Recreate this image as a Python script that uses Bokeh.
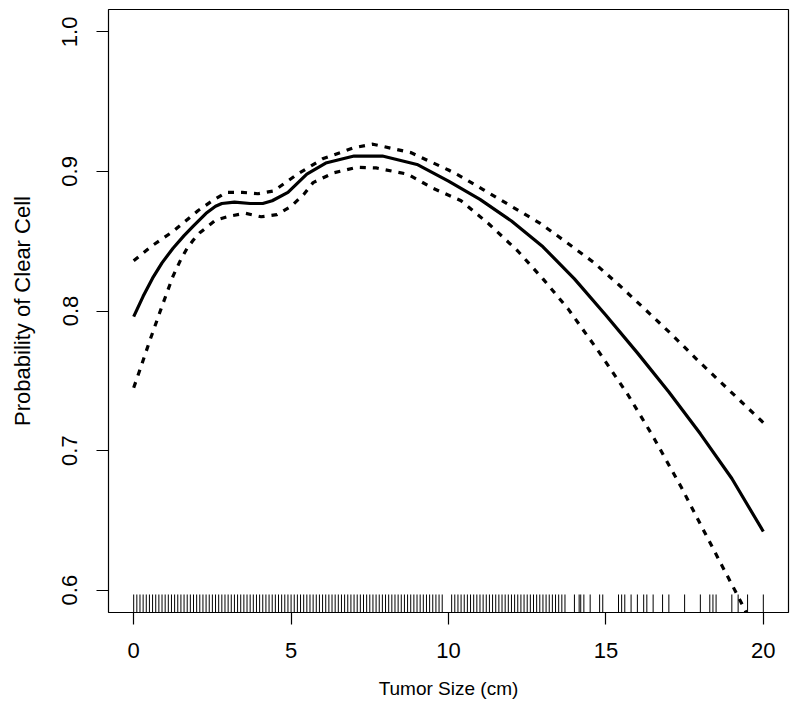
from bokeh.plotting import figure
from bokeh.models import Range1d, FixedTicker
from bokeh.embed import file_html
from bokeh.resources import INLINE

# ---- data ----
fit_x = [0, 0.3, 0.6, 0.9, 1.25, 1.6, 1.9, 2.3, 2.6, 2.8, 3.2, 3.7, 4.1, 4.4, 4.9,
         5.5, 6.1, 7.0, 7.5, 7.9, 9.0, 10.0, 11.0, 12.0, 13.0, 14.0, 15.0, 16.0,
         17.0, 18.0, 19.0, 20.0]
fit_y = [0.796, 0.8105, 0.8235, 0.8345, 0.845, 0.854, 0.861, 0.870, 0.875, 0.877,
         0.878, 0.877, 0.877, 0.879, 0.885, 0.898, 0.906, 0.911, 0.911, 0.911, 0.905,
         0.893, 0.880, 0.8645, 0.846, 0.823, 0.797, 0.770, 0.742, 0.712, 0.680, 0.642]

upper_x = [0, 0.6, 1.25, 2.05, 2.5, 2.95, 3.45, 3.95, 4.45, 5.2, 6.0, 7.0, 7.6, 8.8,
           10.0, 10.3, 11.1, 12.0, 12.9, 13.7, 14.6, 15.4, 16.3, 17.1, 17.9, 18.6,
           19.3, 20.0]
upper_y = [0.836, 0.847, 0.857, 0.872, 0.879, 0.885, 0.885, 0.884, 0.886, 0.898, 0.909,
           0.917, 0.9195, 0.9135, 0.901, 0.8975, 0.887, 0.875, 0.863, 0.850, 0.835,
           0.819, 0.800, 0.783, 0.765, 0.750, 0.735, 0.720]

lower_x = [0, 0.2, 0.5, 0.9, 1.25, 1.5, 1.7, 1.9, 2.1, 2.6, 3.05, 3.55, 4.05, 4.55,
           5.0, 5.4, 5.7, 6.35, 7.1, 7.7, 8.7, 9.5, 10.4, 11.3, 12.2, 13.0, 13.8, 14.8,
           15.7, 16.5, 17.4, 18.1, 18.7, 19.2, 19.6]
lower_y = [0.745, 0.758, 0.778, 0.8035, 0.825, 0.837, 0.845, 0.851, 0.856, 0.865,
           0.868, 0.870, 0.8675, 0.869, 0.875, 0.8835, 0.892, 0.899, 0.903, 0.9025,
           0.898, 0.888, 0.879, 0.862, 0.843, 0.823, 0.8015, 0.770, 0.740, 0.710,
           0.6735, 0.643, 0.617, 0.5955, 0.5775]

rug_x = [
    0.0, 0.1, 0.2, 0.3, 0.4, 0.5, 0.6, 0.7, 0.8, 0.9,
    1.0, 1.1, 1.2, 1.3, 1.4, 1.5, 1.6, 1.7, 1.8, 1.9,
    2.0, 2.1, 2.2, 2.3, 2.4, 2.5, 2.6, 2.7, 2.8, 2.9,
    3.0, 3.1, 3.2, 3.3, 3.4, 3.5, 3.6, 3.7, 3.8, 3.9,
    4.0, 4.1, 4.2, 4.3, 4.4, 4.5, 4.6, 4.7, 4.8, 4.9,
    5.0, 5.1, 5.2, 5.3, 5.4, 5.5, 5.6, 5.7, 5.8, 5.9,
    6.0, 6.1, 6.2, 6.3, 6.4, 6.5, 6.6, 6.7, 6.8, 6.9,
    7.0, 7.1, 7.2, 7.3, 7.4, 7.5, 7.6, 7.7, 7.8, 7.9,
    8.0, 8.1, 8.2, 8.3, 8.4, 8.5, 8.6, 8.7, 8.8, 8.9,
    9.0, 9.1, 9.2, 9.3, 9.4, 9.5, 9.6, 9.7, 9.8,
    10.1, 10.2, 10.3, 10.4, 10.5, 10.6, 10.7, 10.8, 10.9,
    11.0, 11.1, 11.2, 11.3, 11.4, 11.5, 11.6, 11.7, 11.8, 11.9,
    12.0, 12.1, 12.2, 12.3, 12.4, 12.5, 12.6, 12.7, 12.8, 12.9,
    13.0, 13.1, 13.2, 13.3, 13.4, 13.5, 13.6, 13.7,
    14.0, 14.15, 14.2, 14.3, 14.5, 14.8, 14.9,
    15.4, 15.5, 15.6, 15.8, 16.0, 16.2, 16.3, 16.5, 16.8, 17.0,
    17.5, 18.0, 18.3, 18.4, 18.5, 19.0, 19.2, 19.5, 20.0,
]

x_ticks = [0, 5, 10, 15, 20]
y_ticks = [0.6, 0.7, 0.8, 0.9, 1.0]
y_tick_labels = {0.6: "0.6", 0.7: "0.7", 0.8: "0.8", 0.9: "0.9", 1.0: "1.0"}

X_LO, X_HI = -0.8, 20.8
Y_LO, Y_HI = 0.584, 1.016
RUG_LEN = 0.0129  # rug tick height in data units (~18 px)

FONT = "Liberation Sans"

p = figure(width=792, height=712, output_backend="svg", toolbar_location=None,
           x_range=Range1d(X_LO, X_HI), y_range=Range1d(Y_LO, Y_HI),
           min_border_left=108, min_border_right=4, min_border_top=9,
           min_border_bottom=100)

p.background_fill_color = "white"
p.border_fill_color = "white"
p.outline_line_color = "black"
p.outline_line_width = 1.2
p.xgrid.visible = False
p.ygrid.visible = False

# lines
p.line(fit_x, fit_y, line_color="black", line_width=3.2)
p.line(upper_x, upper_y, line_color="black", line_width=3.2, line_dash="6 7")
p.line(lower_x, lower_y, line_color="black", line_width=3.2, line_dash="6 7")

# rug
p.segment(x0=rug_x, y0=[Y_LO] * len(rug_x), x1=rug_x, y1=[Y_LO + RUG_LEN] * len(rug_x),
          line_color="black", line_width=1)

# axes
for ax in (p.xaxis[0], p.yaxis[0]):
    ax.axis_line_color = None
    ax.major_tick_line_color = "black"
    ax.major_tick_line_width = 1.2
    ax.major_tick_in = 0
    ax.major_tick_out = 12
    ax.minor_tick_line_color = None
    ax.major_label_text_font = FONT
    ax.major_label_text_font_size = "22px"
    ax.major_label_text_color = "black"
    ax.axis_label_text_font = FONT
    ax.axis_label_text_font_style = "normal"
    ax.axis_label_text_color = "black"

p.xaxis.axis_label_text_font_size = "19px"
p.yaxis.axis_label_text_font_size = "22px"
p.xaxis.ticker = FixedTicker(ticks=x_ticks)
p.yaxis.ticker = FixedTicker(ticks=y_ticks)
p.yaxis.major_label_overrides = y_tick_labels
p.yaxis.major_label_orientation = "vertical"
p.xaxis.axis_label = "Tumor Size (cm)"
p.yaxis.axis_label = "Probability of Clear Cell"
p.xaxis.major_label_standoff = 18
p.xaxis.axis_label_standoff = 17
p.yaxis.major_label_standoff = 19
p.yaxis.axis_label_standoff = 25

open("out.html", "w").write(file_html(p, INLINE))
